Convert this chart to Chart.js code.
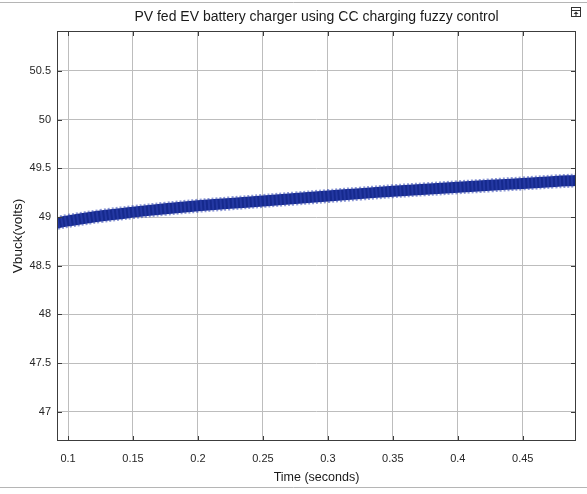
<!DOCTYPE html>
<html>
<head>
<meta charset="utf-8">
<script src="https://cdn.jsdelivr.net/npm/chart.js@4.4.1/dist/chart.umd.min.js"></script>
<style>
  html, body { margin: 0; padding: 0; background: #ffffff; }
  #wrap { width: 587px; height: 494px; position: relative; }
</style>
</head>
<body>
<div id="wrap"><canvas id="c" width="587" height="494"></canvas></div>
<script>
// ---- data ----
const chartTitle = "PV fed EV battery charger using CC charging fuzzy control";
const xTitle = "Time (seconds)";
const yTitle = "Vbuck(volts)";
const timeSec = [0.0915, 0.1, 0.125, 0.15, 0.175, 0.2, 0.225, 0.25, 0.275, 0.3, 0.325, 0.35, 0.375, 0.4, 0.425, 0.45, 0.475, 0.491];
const vbuck   = [48.94, 48.96, 49.01, 49.05, 49.085, 49.115, 49.14, 49.165, 49.19, 49.215, 49.24, 49.265, 49.285, 49.305, 49.325, 49.345, 49.365, 49.375];
const xTicks = [0.1, 0.15, 0.2, 0.25, 0.3, 0.35, 0.4, 0.45];
const yTicks = [47, 47.5, 48, 48.5, 49, 49.5, 50, 50.5];
const xRange = [0.0915, 0.491];
const yRange = [46.70, 50.91];

const points = timeSec.map((t, i) => ({ x: t, y: vbuck[i] }));

const decor = {
  id: 'decor',
  beforeDraw(chart) {
    const ctx = chart.ctx;
    ctx.save();
    ctx.fillStyle = '#ffffff';
    ctx.fillRect(0, 0, chart.width, chart.height);
    ctx.strokeStyle = '#b5b5b5';
    ctx.lineWidth = 1;
    ctx.beginPath();
    ctx.moveTo(0, 2.5); ctx.lineTo(chart.width, 2.5);
    ctx.moveTo(0, 487.5); ctx.lineTo(chart.width, 487.5);
    ctx.stroke();
    ctx.restore();
  },
  afterDraw(chart) {
    const ctx = chart.ctx;
    const a = chart.chartArea;
    const xs = chart.scales.x, ys = chart.scales.y;
    ctx.save();
    // frame
    ctx.strokeStyle = '#3c3c3c';
    ctx.lineWidth = 1;
    ctx.strokeRect(Math.round(a.left) + 0.5, Math.round(a.top) + 0.5, Math.round(a.right - a.left) - 1, Math.round(a.bottom - a.top) - 1);
    // inward ticks
    ctx.beginPath();
    xTicks.forEach(v => {
      const px = Math.round(xs.getPixelForValue(v)) + 0.5;
      ctx.moveTo(px, a.bottom); ctx.lineTo(px, a.bottom - 5);
      ctx.moveTo(px, a.top); ctx.lineTo(px, a.top + 5);
    });
    yTicks.forEach(v => {
      const py = Math.round(ys.getPixelForValue(v)) + 0.5;
      ctx.moveTo(a.left, py); ctx.lineTo(a.left + 5, py);
      ctx.moveTo(a.right, py); ctx.lineTo(a.right - 5, py);
    });
    ctx.stroke();
    // title
    ctx.fillStyle = '#1a1a1a';
    ctx.font = '14px "Liberation Sans", Arial, sans-serif';
    ctx.textAlign = 'center';
    ctx.textBaseline = 'middle';
    ctx.fillText(chartTitle, (a.left + a.right) / 2, 17);
    // corner icon
    ctx.strokeStyle = '#333';
    ctx.strokeRect(571.5, 7.5, 9, 9);
    ctx.beginPath();
    ctx.moveTo(571.5, 10.5); ctx.lineTo(580.5, 10.5);
    ctx.stroke();
    ctx.fillStyle = '#333';
    ctx.beginPath();
    ctx.moveTo(576, 11.5); ctx.lineTo(573.5, 14); ctx.lineTo(578.5, 14); ctx.closePath();
    ctx.fill();
    ctx.fillRect(575.5, 13.5, 1, 2.5);
    ctx.restore();
  }
};

new Chart(document.getElementById('c'), {
  type: 'line',
  data: {
    datasets: [
      {
        data: points,
        borderColor: 'rgba(50,70,180,0.55)',
        borderWidth: 14,
        borderDash: [2, 2],
        borderCapStyle: 'butt',
        pointRadius: 0,
        tension: 0.4,
        fill: false
      },
      {
        data: points,
        borderColor: '#15298d',
        borderWidth: 11,
        pointRadius: 0,
        tension: 0.4,
        fill: false
      }
    ]
  },
  options: {
    responsive: false,
    animation: false,
    devicePixelRatio: 1,
    layout: { padding: { top: 31, right: 11, left: 0, bottom: 0 } },
    plugins: {
      legend: { display: false },
      tooltip: { enabled: false },
      title: { display: false }
    },
    scales: {
      x: {
        type: 'linear',
        min: xRange[0],
        max: xRange[1],
        afterFit(s) { s.height = 53; },
        afterBuildTicks(s) { s.ticks = xTicks.map(v => ({ value: v })); },
        grid: { color: '#bdbdbd', lineWidth: 1, drawTicks: false },
        border: { display: false },
        ticks: {
          color: '#262626',
          font: { family: '"Liberation Sans", Arial, sans-serif', size: 11 },
          padding: 11,
          maxRotation: 0,
          autoSkip: false,
          callback: v => String(v)
        },
        title: {
          display: true,
          text: xTitle,
          color: '#1a1a1a',
          font: { family: '"Liberation Sans", Arial, sans-serif', size: 12.5 },
          padding: { top: 0, bottom: 9 }
        }
      },
      y: {
        type: 'linear',
        min: yRange[0],
        max: yRange[1],
        afterFit(s) { s.width = 57; },
        afterBuildTicks(s) { s.ticks = yTicks.map(v => ({ value: v })); },
        grid: { color: '#bdbdbd', lineWidth: 1, drawTicks: false },
        border: { display: false },
        ticks: {
          color: '#262626',
          font: { family: '"Liberation Sans", Arial, sans-serif', size: 11 },
          padding: 6,
          autoSkip: false,
          callback: v => String(v)
        },
        title: {
          display: true,
          text: yTitle,
          color: '#1a1a1a',
          font: { family: '"Liberation Sans", Arial, sans-serif', size: 13.5 },
          padding: { top: 10, bottom: 0 }
        }
      }
    }
  },
  plugins: [decor]
});
</script>
</body>
</html>
